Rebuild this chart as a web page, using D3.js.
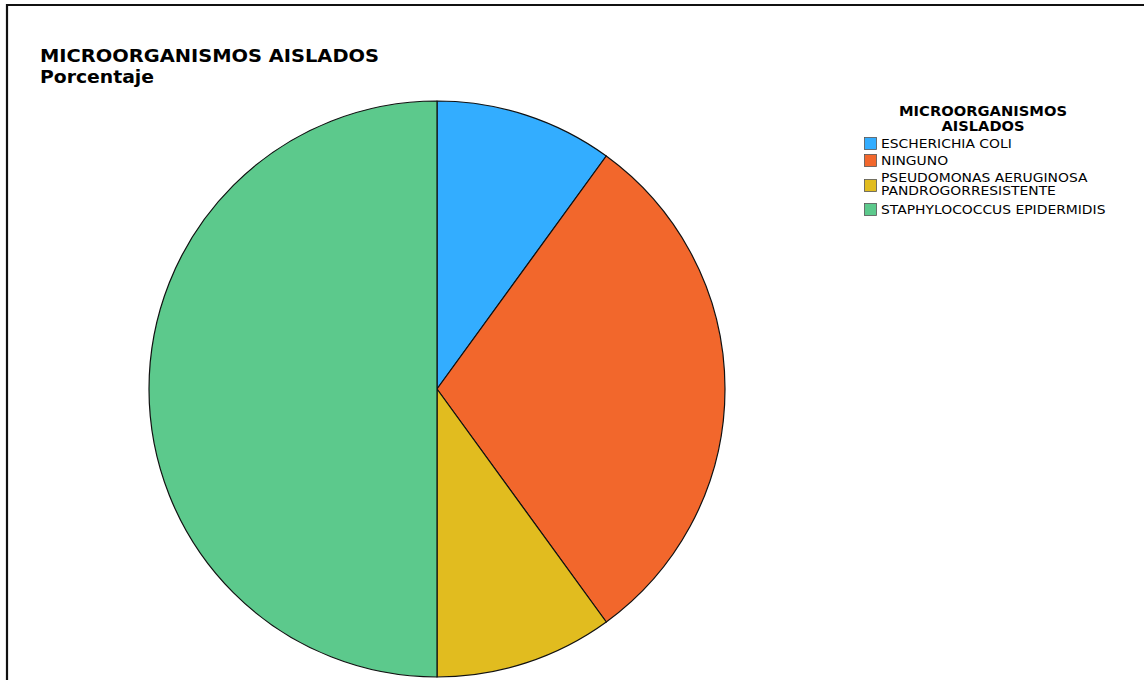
<!DOCTYPE html>
<html>
<head>
<meta charset="utf-8">
<script src="https://cdn.jsdelivr.net/npm/d3@7"></script>
<style>
  html, body { margin: 0; padding: 0; background: #fff; }
  svg { display: block; }
  text { font-family: "DejaVu Sans", "Noto Sans", sans-serif; fill: #000; }
</style>
</head>
<body>
<svg id="chart" width="1144" height="680"></svg>
<script>
// Isolated microorganisms, share of cases (%)
const categories = [
  "ESCHERICHIA COLI",
  "NINGUNO",
  "PSEUDOMONAS AERUGINOSA PANDROGORRESISTENTE",
  "STAPHYLOCOCCUS EPIDERMIDIS"
];
const percentages = [10, 30, 10, 50];
const legendLabels = [
  ["ESCHERICHIA COLI"],
  ["NINGUNO"],
  ["PSEUDOMONAS AERUGINOSA", "PANDROGORRESISTENTE"],
  ["STAPHYLOCOCCUS EPIDERMIDIS"]
];
const colors = ["#33adff", "#f2672c", "#e1bc1f", "#5cc98c"];

const svg = d3.select("#chart");

// Frame around the chart area
svg.append("line").attr("x1", 7).attr("y1", 5).attr("x2", 1144).attr("y2", 5)
  .attr("stroke", "#111").attr("stroke-width", 2.2);
svg.append("line").attr("x1", 7).attr("y1", 4).attr("x2", 7).attr("y2", 680)
  .attr("stroke", "#111").attr("stroke-width", 2.2);

// Title
svg.append("text").attr("x", 40).attr("y", 62)
  .attr("font-size", 17).attr("font-weight", "bold")
  .attr("textLength", 339).attr("lengthAdjust", "spacingAndGlyphs")
  .text("MICROORGANISMOS AISLADOS");
svg.append("text").attr("x", 40).attr("y", 83)
  .attr("font-size", 17).attr("font-weight", "bold")
  .attr("textLength", 114).attr("lengthAdjust", "spacingAndGlyphs")
  .text("Porcentaje");

// Pie
const cx = 437, cy = 389, radius = 288;
const color = d3.scaleOrdinal().domain(categories).range(colors);
const pie = d3.pie().sort(null).value(d => d.value);
const arc = d3.arc().innerRadius(0).outerRadius(radius);
const data = categories.map((c, i) => ({ name: c, value: percentages[i] }));

svg.append("g").attr("transform", `translate(${cx},${cy})`)
  .selectAll("path").data(pie(data)).join("path")
  .attr("d", arc)
  .attr("fill", d => color(d.data.name))
  .attr("stroke", "#111").attr("stroke-width", 1.2)
  .attr("stroke-linejoin", "round");

// Legend
function fitText(sel, width) {
  sel.attr("textLength", width).attr("lengthAdjust", "spacingAndGlyphs");
}
const lg = svg.append("g");
fitText(lg.append("text").attr("x", 983).attr("y", 116).attr("text-anchor", "middle")
  .attr("font-size", 13.5).attr("font-weight", "bold").text("MICROORGANISMOS"), 168);
fitText(lg.append("text").attr("x", 983).attr("y", 131).attr("text-anchor", "middle")
  .attr("font-size", 13.5).attr("font-weight", "bold").text("AISLADOS"), 83);

const rowTops = [137, 154, 171, 203];
categories.forEach((c, i) => {
  const lines = legendLabels[i];
  const top = rowTops[i];
  const swY = lines.length > 1 ? top + 8 : top;
  lg.append("rect").attr("x", 864.5).attr("y", swY + 0.5)
    .attr("width", 12).attr("height", 12)
    .attr("fill", color(c)).attr("stroke", "#555").attr("stroke-width", 0.8);
  lines.forEach((t, j) => {
    const txt = lg.append("text").attr("x", 881).attr("y", top + 11 + j * 13)
      .attr("font-size", 12.5).text(t);
    // widen the label slightly so it reads as a broader sans face
    fitText(txt, txt.node().getComputedTextLength() * 1.11);
  });
});
</script>
</body>
</html>
